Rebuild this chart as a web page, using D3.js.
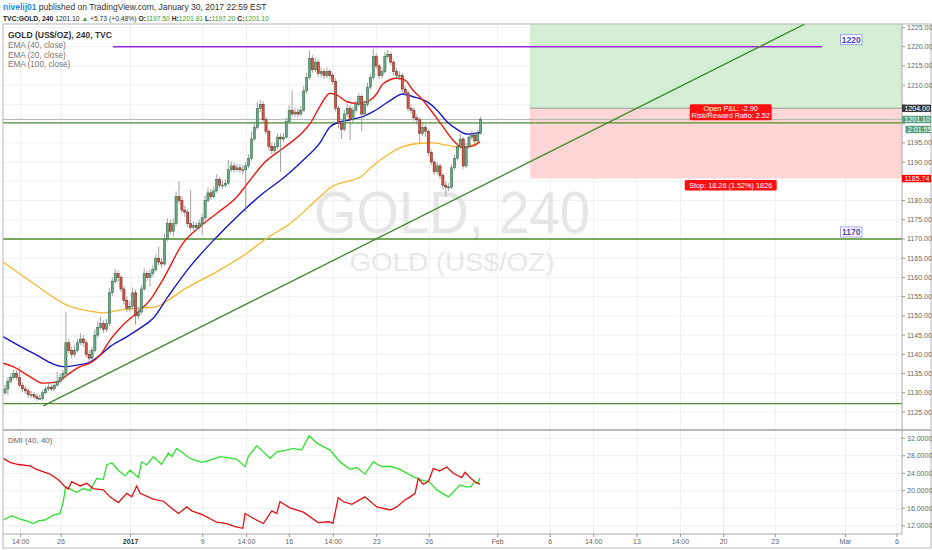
<!DOCTYPE html>
<html><head><meta charset="utf-8">
<script src="https://cdn.jsdelivr.net/npm/d3@7/dist/d3.min.js"></script>
<style>
html,body{margin:0;padding:0;background:#fff;}
svg{display:block;font-family:"Liberation Sans",Arial,sans-serif;}
</style></head>
<body><svg id="c" width="932" height="550"></svg>
<script>
// ---------------- DATA ----------------
const closes=[1131,1133,1134,1135,1134,1132,1131,1130.5,1129.5,1129.5,1129,1128.5,1128.5,1130,1131,1131.5,1131,1132,1133,1134,
1135,1143,1141,1140,1141,1143,1144,1143,1140,1139,1141,1145,1147,1148,1146.5,1148,1156,1159,1161,1160,
1157,1154,1152,1152.5,1156,1150,1151,1157,1161,1160,1161,1162,1165,1164,1163.5,1170,1174,1172,1174,1181,
1180,1177.5,1177,1174,1173,1173.5,1173,1174,1175.5,1180,1182,1181,1182.5,1185.5,1184,1184,1184.5,1188,1189,1188,
1188.5,1188,1188,1189,1191,1196,1199,1204,1205,1201,1198,1194,1193,1194,1196.5,1196,1196.5,1200.5,1203.5,1202.5,
1203,1202.5,1203.5,1208.5,1212,1217,1214,1216,1213,1213.5,1212.5,1213.5,1212.5,1211,1204,1200,1198.5,1202.5,1204,1201,
1203.5,1205,1207,1202.5,1205,1209.5,1212,1217.5,1215,1212.5,1213.5,1217.5,1218,1216,1213.5,1212.5,1212.5,1209,1208,1204,
1203.5,1201.5,1201,1197.5,1199,1198,1192.5,1190,1187.5,1189,1186.5,1184,1183.5,1183.5,1188.5,1191,1194,1196,1189,1194,
1196.5,1197,1195.5,1197.5,1201.1];
const opens=[1130,1131,1133,1134,1135,1134,1132,1131,1130.5,1129.5,1129.5,1129,1128.5,1128.5,1130,1131,1131.5,1131,1132,1133,
1134,1135,1143,1141,1140,1141,1143,1144,1143,1140,1139,1141,1145,1147,1148,1146.5,1148,1156,1159,1161,
1160,1157,1154,1152,1152.5,1156,1150,1151,1157,1161,1160,1161,1162,1165,1164,1163.5,1170,1174,1172,1174,
1181,1180,1177.5,1177,1174,1173,1173.5,1173,1174,1175.5,1180,1182,1181,1182.5,1185.5,1184,1184,1184.5,1188,1189,
1188,1188.5,1188,1188,1189,1191,1196,1199,1204,1205,1201,1198,1194,1193,1194,1196.5,1196,1196.5,1200.5,1203.5,
1202.5,1203,1202.5,1203.5,1208.5,1212,1217,1214,1216,1213,1213.5,1212.5,1213.5,1212.5,1211,1204,1200,1198.5,1202.5,1204,
1201,1203.5,1205,1207,1202.5,1205,1209.5,1212,1217.5,1215,1212.5,1213.5,1217.5,1218,1216,1213.5,1212.5,1212.5,1209,1208,
1204,1203.5,1201.5,1201,1197.5,1199,1198,1192.5,1190,1187.5,1189,1186.5,1184,1183.5,1183.5,1188.5,1191,1194,1196,1189,
1194,1196.5,1197,1195.5,1197.5];
const highs=[1132,1134,1135,1136,1135.8,1136.8,1132.8,1131.8,1131.2,1130.5,1130.2,1129.8,1129.6,1130.8,1131.8,1132.4,1132.2,1133,1135.5,1135,
1136,1151,1144,1142,1142.5,1144,1145.5,1145,1143.8,1141,1142,1146.5,1148.6,1149.8,1148.8,1149.2,1157.2,1160,1162.2,1161.8,
1160.6,1157.8,1155,1153.8,1157.4,1156.8,1152.4,1158,1162.4,1161.8,1162,1163.2,1166,1168,1165,1171.4,1175.4,1175,1175.2,1182.4,
1185,1181,1178.6,1177.8,1182.7,1174.6,1174.4,1175,1176.6,1181.2,1183.4,1183,1183.6,1186.8,1186.2,1185.2,1185.6,1190.5,1190.2,1189.8,
1189.6,1189.4,1189.2,1190,1192,1198,1200.4,1205.6,1206.2,1205.8,1201.8,1198.6,1195,1195.2,1197.6,1197.4,1197.6,1201.6,1204.8,1208.7,
1204.2,1204,1204.6,1209.8,1213.2,1219,1217.8,1217.2,1216.8,1214.6,1214.4,1214.6,1214.2,1213.2,1211.8,1204.6,1201.2,1203.6,1205.2,1204.8,
1204.4,1206.2,1208,1207.6,1206,1210.6,1213,1219.5,1218.2,1215.6,1214.6,1218.6,1219.2,1218.6,1216.6,1214.4,1213.6,1213.2,1209.8,1208.6,
1205,1204.2,1202.4,1201.6,1200,1199.8,1198.6,1193.2,1190.8,1190,1189.6,1187.2,1185,1184.6,1189.4,1192,1195,1197.4,1196.6,1195,
1197.6,1198.2,1197.6,1198.4,1201.81];
const lows=[1129.4,1129.4,1132.5,1133.5,1133.2,1131.5,1130.2,1129.8,1128.8,1128.6,1128.3,1127.9,1128.1,1128,1129.6,1130.5,1130.4,1130.6,1131.6,1132.5,
1133.4,1134.4,1140.2,1139,1139.2,1140.5,1142.4,1142,1139.2,1137.8,1138.4,1140.5,1144.4,1146.4,1145.6,1145.8,1147.4,1155.2,1158.4,1158.8,
1156.2,1153,1151,1151.2,1151.8,1147.8,1149.2,1150.4,1156.5,1159,1157.6,1160.2,1161.4,1163.2,1162.6,1163,1169.4,1171.2,1170.6,1173.4,
1179.2,1176.6,1175.8,1173,1172.2,1172.2,1172,1172.4,1171,1175,1179.4,1180.2,1180.4,1182,1183.2,1183,1183.4,1184,1187.4,1187.2,
1187.4,1187.2,1186.8,1177,1188.4,1190.4,1195.4,1198.4,1203,1200.2,1197.2,1193,1192,1192.2,1193.4,1187.5,1195.2,1196,1200,1201.8,
1201.8,1201.6,1201.8,1203,1207.8,1211.4,1213.2,1213.4,1212.2,1212,1211.6,1211.8,1211.6,1210.2,1203.2,1198.8,1196,1198,1201.8,1195.7,
1200.4,1202.8,1204.4,1198,1201.8,1204.4,1208.8,1211.4,1214.2,1211.6,1211.8,1213,1216.8,1215.2,1212.6,1211.8,1211.4,1208.2,1207,1203.2,
1202.6,1200.6,1199.8,1195,1196.8,1196.6,1191.6,1189.2,1186.6,1186.8,1185.6,1183,1181,1182.4,1183,1188,1190.4,1193.4,1188.2,1188.4,
1193.4,1195.8,1194.8,1195,1197.2];

// EMA readings: [bar index, price]
const ema20=[[-0.7,1137.7],[2.8,1136.8],[8.6,1134.2],[13.1,1132.5],[18.3,1132.9],[21.4,1134.6],[25.9,1136.8],[29.3,1137.7],[32.8,1139.8],[36.2,1143.7],[40.7,1147.6],[46.6,1151.5],[50,1154.1],[54.5,1159.5],[61.4,1168.9],[67.2,1173.2],[73.1,1176.7],[80,1181],[84.5,1185.3],[89,1189.5],[95.9,1193.6],[102.8,1197.9],[105.2,1200],[108.6,1204.5],[112.1,1207.9],[114.5,1207.4],[117.9,1205.7],[121.4,1205.3],[124.8,1205.7],[128.3,1207.9],[130.3,1210.3],[135.2,1211.8],[137.9,1211.3],[140.7,1208.7],[144.1,1206.1],[147.6,1202.7],[151,1199.2],[154.5,1195.7],[157.9,1193.8],[161.4,1194.2],[163.8,1195.3]];
const ema40=[[-0.7,1144.6],[9.7,1140.3],[20,1136.8],[24.8,1137.2],[29.3,1138],[32.8,1139.8],[36.2,1142],[42.1,1144.6],[46.6,1146.8],[51,1149.3],[56.2,1155],[63.8,1162.8],[73.1,1170.6],[80,1175.8],[89,1181.9],[95.9,1185.8],[102.8,1190.5],[108.6,1195],[112.1,1199.2],[114.5,1200.2],[119,1201],[123.4,1201.8],[126.9,1203.1],[132.8,1206],[137.2,1207.7],[140.7,1207],[145.5,1205.7],[149,1203.5],[152.4,1200.5],[155.9,1198.5],[159.3,1197.3],[163.8,1197.7]];
const ema100=[[-0.7,1164],[9.7,1158.5],[21.4,1152.8],[30.3,1151.1],[33.8,1150.8],[39.7,1151.5],[46.6,1152],[52.4,1152.4],[56.2,1154],[61.4,1156.7],[73.1,1161.5],[83.4,1166.3],[90.3,1170.2],[98.3,1174],[108.6,1181],[112.1,1183.3],[123.4,1186.6],[125.9,1188.4],[132.8,1192.3],[137.2,1194],[143.1,1194.9],[147.2,1195],[152.4,1194.4],[156.9,1193.8],[160.3,1194.2],[163.8,1195.3]];

// DMI readings: [bar index, value]
const diPlus=[[-0.6,13.3],[2.3,14.3],[5.2,13.5],[7.5,13.1],[9.8,12.5],[11.5,13.1],[13.8,13.3],[16.7,14.4],[19,14.8],[20.1,17.5],[20.9,20.9],[23,20.2],[24.7,19.6],[27,20.5],[29.3,20],[31.6,22.8],[33.9,22.6],[35.1,25.9],[36.8,26.4],[39.1,24.7],[41.4,23.4],[43.1,24.7],[46,23],[47.1,26.6],[48.9,25.9],[51.1,27.8],[54,26],[56.3,28.6],[57.5,27.8],[59.2,29.7],[61.5,28.6],[63.8,27.4],[67.8,26.5],[70.7,27],[74.1,27.8],[77,27.6],[79.9,27.2],[82.8,25.5],[83.9,27.8],[86.8,30.3],[89.1,28.9],[91.4,27.4],[93.7,28.9],[97.1,29.3],[99.4,29.7],[102.3,29.3],[104.9,32.6],[107.5,30.9],[112.1,29.3],[115.5,26.6],[119,24.9],[121.3,25.3],[124.1,23.8],[127,26.6],[129.9,25.5],[132.8,25.6],[136.2,24.9],[141.4,23],[144.2,22.3],[146,22.2],[148.9,20.2],[152.9,18.6],[156.9,21.3],[159,20.9],[160.7,20.9],[161.8,22],[163,21.7],[163.8,23]];
const diMinus=[[-0.6,27.4],[1.7,26.5],[4.6,26],[8.6,25.7],[10.9,24.9],[15.5,23.8],[18.4,22.5],[20.7,20.9],[21.8,20.4],[23,22.1],[25.9,21.1],[28.2,21.7],[30.4,20.5],[33.9,20.2],[36.2,18.6],[39.1,17.3],[42,19.4],[43.7,18.6],[45.4,21.1],[46.6,19.4],[51.1,18.1],[54.6,17.6],[57.5,16],[59.8,14.8],[62.7,16.3],[64.4,15.4],[68.4,14.4],[73,12.8],[76.4,12.5],[79.3,11.8],[82,11.4],[82.8,14.8],[85.6,13.7],[89.1,12.5],[92,15.4],[93.7,14.8],[94.8,17.5],[98.3,16.1],[102.9,15.1],[108,12.7],[111.5,12.9],[113.1,12.6],[114.9,18.4],[116.7,17.5],[119.6,16.9],[124.1,18.6],[128.2,16.3],[132.8,15.6],[135.1,16.3],[137.9,17.9],[139.7,18.6],[141.4,19.4],[142.5,22.8],[144.2,21.5],[146,22.1],[147.7,25.1],[149.8,24.5],[152.3,25.4],[154.6,24],[157.5,23],[158.6,24.2],[160.7,22.8],[162.4,21.9],[163.8,21.5]];

// Time axis
const timeLabels=["14:00","26","2017","9","14:00","16","14:00","23","26","Feb","6","14:00","13","14:00","20","23","Mar","6"];
const timeBars=[5.4,19.3,43.3,68.2,83.3,98,113.2,128.2,146.3,169.9,188,203,217.9,232.9,247.8,265.6,289.8,307.6];
const priceTicks=d3.range(1125,1226,5);
const dmiTicks=[12,16,20,24,28,32];

// Drawings
const hLines=[1200.2,1170,1127.2];
const purpleLevel=1220, purpleFrom=37.2, purpleTo=281.7;
const trendA=[13.2,1126.6], trendB=[198.3,1196.6];
const levelBoxes=[{t:"1220",p:1220},{t:"1170",p:1170}];
const entry=1204.00, stop=1185.74, target=1250.0, posStart=181, posEnd=319.5;
const lastPrice=1201.10;

// header segments: [text, colour, weight]
const headerLine1=[["nivelij01","#1e88e5","bold"],[" published on TradingView.com, January 30, 2017 22:59 EST","#333","normal"]];
const headerLine2=[["TVC:GOLD, 240","#222","bold"],[" 1201.10 ","#222","normal"],["▲","#3a9e3a","normal"],[" +5.73 (+0.48%) ","#333","normal"],["O:","#222","bold"],["1197.50","#3a9e3a","normal"],[" H:","#222","bold"],["1201.81","#3a9e3a","normal"],[" L:","#222","bold"],["1197.20","#3a9e3a","normal"],[" C:","#222","bold"],["1201.10","#3a9e3a","normal"]];

// ---------------- LAYOUT ----------------
const PL=3, PR=902, MT=24, MB=429, DT=431, DB=534;
const svg=d3.select("#c");
const x=d3.scaleLinear().domain([0,309]).range([5,901.1]);
const y=d3.scaleLinear().domain([1125,1225]).range([412,27.5]);
const yd=d3.scaleLinear().domain([12,32]).range([525.7,438.3]);

svg.append("rect").attr("width",932).attr("height",550).attr("fill","#fff");
const defs=svg.append("defs");
defs.append("clipPath").attr("id","cm").append("rect").attr("x",PL).attr("y",MT).attr("width",PR-PL).attr("height",MB-MT);
defs.append("clipPath").attr("id","cd").append("rect").attr("x",PL).attr("y",DT).attr("width",PR-PL).attr("height",DB-DT);

// header: segments laid out one after another, sized to fit the target width
function headerLine(segs,yy,targetW){
  let fs=9;
  const g=svg.append("g");
  function draw(){
    g.selectAll("*").remove();
    let cx=3;
    segs.forEach(s=>{
      const t=g.append("text").attr("x",cx).attr("y",yy).attr("font-size",fs).attr("fill",s[1]).attr("font-weight",s[2]).attr("xml:space","preserve").style("white-space","pre").text(s[0]);
      cx+=t.node().getComputedTextLength();
    });
    return cx-3;
  }
  const w=draw();
  fs=fs*targetW/w;
  draw();
}
headerLine(headerLine1,10,264);
headerLine(headerLine2,21,266);

// grid
const grid=svg.append("g");
timeBars.forEach(b=>{
  grid.append("line").attr("x1",x(b)).attr("x2",x(b)).attr("y1",MT).attr("y2",MB).attr("stroke","#eeeeee");
  grid.append("line").attr("x1",x(b)).attr("x2",x(b)).attr("y1",DT).attr("y2",DB).attr("stroke","#eeeeee");
});
priceTicks.forEach(p=>grid.append("line").attr("x1",PL).attr("x2",PR).attr("y1",y(p)).attr("y2",y(p)).attr("stroke","#f0f0f0"));
dmiTicks.forEach(v=>grid.append("line").attr("x1",PL).attr("x2",PR).attr("y1",yd(v)).attr("y2",yd(v)).attr("stroke","#eeeeee"));

// watermark
svg.append("text").attr("x",452).attr("y",233).attr("text-anchor","middle").attr("font-size",60).attr("fill","#e6e6e6")
  .attr("textLength",276).attr("lengthAdjust","spacingAndGlyphs").text("GOLD, 240");
svg.append("text").attr("x",452).attr("y",271).attr("text-anchor","middle").attr("font-size",26).attr("fill","#e8e8e8")
  .attr("textLength",205).attr("lengthAdjust","spacingAndGlyphs").text("GOLD (US$/OZ)");

const main=svg.append("g").attr("clip-path","url(#cm)");

// position tool
main.append("rect").attr("x",x(posStart)).attr("width",x(posEnd)-x(posStart)).attr("y",y(target)).attr("height",y(entry)-y(target)).attr("fill","#d3eed3");
main.append("rect").attr("x",x(posStart)).attr("width",x(posEnd)-x(posStart)).attr("y",y(entry)).attr("height",y(stop)-y(entry)).attr("fill","#ffd5d5");
main.append("line").attr("x1",x(posStart)).attr("x2",x(posEnd)).attr("y1",y(entry)).attr("y2",y(entry)).attr("stroke","#999").attr("stroke-width",1);

// horizontal levels
hLines.forEach(p=>main.append("line").attr("x1",PL).attr("x2",PR).attr("y1",y(p)).attr("y2",y(p)).attr("stroke","#4f8f2f").attr("stroke-width",1.3));
main.append("line").attr("x1",PL).attr("x2",PR).attr("y1",y(lastPrice)).attr("y2",y(lastPrice)).attr("stroke","#a9b9ae").attr("stroke-width",1);
main.append("line").attr("x1",x(purpleFrom)).attr("x2",x(purpleTo)).attr("y1",y(purpleLevel)).attr("y2",y(purpleLevel)).attr("stroke","#9d27d6").attr("stroke-width",1.5);
// trend ray
const slope=(trendB[1]-trendA[1])/(trendB[0]-trendA[0]);
const tEnd=320;
main.append("line").attr("x1",x(trendA[0])).attr("y1",y(trendA[1])).attr("x2",x(tEnd)).attr("y2",y(trendA[1]+slope*(tEnd-trendA[0])))
  .attr("stroke","#3b8a2c").attr("stroke-width",1.3);

// EMAs
const lineP=d3.line().x(d=>x(d[0])).y(d=>y(d[1])).curve(d3.curveMonotoneX);
main.append("path").attr("d",lineP(ema100)).attr("fill","none").attr("stroke","#f3b72b").attr("stroke-width",1.3);
main.append("path").attr("d",lineP(ema40)).attr("fill","none").attr("stroke","#1818c8").attr("stroke-width",1.4);
main.append("path").attr("d",lineP(ema20)).attr("fill","none").attr("stroke","#ea1a10").attr("stroke-width",1.4);

// candles
const cg=main.append("g");
closes.forEach((c,i)=>{
  const o=opens[i], up=c>=o, cx=x(i);
  cg.append("line").attr("x1",cx).attr("x2",cx).attr("y1",y(highs[i])).attr("y2",y(lows[i])).attr("stroke","#8a8a8c").attr("stroke-width",0.8);
  const top=y(Math.max(o,c)), bot=y(Math.min(o,c));
  cg.append("rect").attr("x",cx-1.1).attr("width",2.2).attr("y",top).attr("height",Math.max(0.8,bot-top))
    .attr("fill",up?"#6ba583":"#d75442").attr("stroke",up?"#2b6543":"#6b1f16").attr("stroke-width",0.5);
});

// level boxes
levelBoxes.forEach(b=>{
  const cy=y(b.p)-7;
  svg.append("rect").attr("x",840.5).attr("y",cy-5).attr("width",21.5).attr("height",10).attr("fill","#fff").attr("stroke","#8c8cf0").attr("stroke-width",0.8);
  svg.append("text").attr("x",851.2).attr("y",cy+3.3).attr("text-anchor","middle").attr("font-size",8.5).attr("font-weight","bold").attr("fill","#4848b8").text(b.t);
});

// position labels
const pcx=(x(posStart)+x(posEnd))/2;
svg.append("rect").attr("x",pcx-41).attr("y",y(entry)-4).attr("width",82).attr("height",16).attr("rx",1.5).attr("fill","#ff1010");
svg.append("text").attr("x",pcx).attr("y",y(entry)+2.8).attr("text-anchor","middle").attr("font-size",7.3).attr("fill","#fff").text("Open P&L: -2.90");
svg.append("text").attr("x",pcx).attr("y",y(entry)+10.2).attr("text-anchor","middle").attr("font-size",7.3).attr("fill","#fff").text("Risk/Reward Ratio: 2.52");
svg.append("rect").attr("x",pcx-46).attr("y",y(stop)+1.6).attr("width",92).attr("height",10.5).attr("rx",1.5).attr("fill","#ff1010");
svg.append("text").attr("x",pcx).attr("y",y(stop)+9.4).attr("text-anchor","middle").attr("font-size",7.3).attr("fill","#fff").text("Stop: 18.26 (1.52%) 1826");

// legends
svg.append("text").attr("x",8).attr("y",38).attr("font-size",8.5).attr("fill","#333").attr("font-weight","bold").text("GOLD (US$/OZ), 240, TVC");
["EMA (40, close)","EMA (20, close)","EMA (100, close)"].forEach((t,i)=>
  svg.append("text").attr("x",8).attr("y",48+i*9.7).attr("font-size",8.2).attr("fill","#777").text(t));

// DMI
const dmi=svg.append("g").attr("clip-path","url(#cd)");
const lineD=d3.line().x(d=>x(d[0])).y(d=>yd(d[1]));
dmi.append("path").attr("d",lineD(diPlus)).attr("fill","none").attr("stroke","#2fe02f").attr("stroke-width",1.3);
dmi.append("path").attr("d",lineD(diMinus)).attr("fill","none").attr("stroke","#e31212").attr("stroke-width",1.3);
svg.append("text").attr("x",8).attr("y",443).attr("font-size",8).attr("fill","#666").text("DMI (40, 40)");

// frames
svg.append("rect").attr("x",PL).attr("y",MT).attr("width",931-PL).attr("height",548-MT).attr("fill","none").attr("stroke","#b5b5b5");
svg.append("line").attr("x1",PL).attr("x2",931).attr("y1",430).attr("y2",430).attr("stroke","#b8b8b8").attr("stroke-width",2.2);
svg.append("line").attr("x1",PR).attr("x2",PR).attr("y1",MT).attr("y2",DB).attr("stroke","#a8a8a8");
svg.append("line").attr("x1",PL).attr("x2",PR).attr("y1",DB).attr("y2",DB).attr("stroke","#a8a8a8");

// axis price tags (positions)
const tags=[{p:entry,t:d3.format(".2f")(entry),bg:"#3d3d3d",dx:0},
            {p:lastPrice,t:d3.format(".2f")(lastPrice),bg:"#5e9e80",dx:0},
            {p:lastPrice-2.6,t:"2:01:55",bg:"#5e9e80",dx:3.5},
            {p:stop,t:d3.format(".2f")(stop),bg:"#ff0000",dx:0}];

// right price axis
const ax=svg.append("g").attr("font-size",7).attr("fill","#666");
priceTicks.forEach(p=>{
  ax.append("line").attr("x1",PR).attr("x2",PR+3).attr("y1",y(p)).attr("y2",y(p)).attr("stroke","#999");
  const hidden=tags.some(tg=>Math.abs(y(tg.p)-y(p))<6.5);
  if(!hidden) ax.append("text").attr("x",PR+5).attr("y",y(p)+2.5).text(d3.format(".2f")(p));
});
dmiTicks.forEach(v=>{
  ax.append("line").attr("x1",PR).attr("x2",PR+3).attr("y1",yd(v)).attr("y2",yd(v)).attr("stroke","#999");
  ax.append("text").attr("x",PR+5).attr("y",yd(v)+2.5).text(d3.format(".4f")(v));
});
timeLabels.forEach((t,i)=>{
  const tx=x(timeBars[i]);
  ax.append("line").attr("x1",tx).attr("x2",tx).attr("y1",DB).attr("y2",DB+3).attr("stroke","#999");
  ax.append("text").attr("x",tx).attr("y",544).attr("text-anchor","middle").attr("font-weight",t==="2017"?"bold":"normal").attr("fill",t==="2017"?"#333":"#666").text(t);
});

tags.forEach(tg=>{
  const ty=y(tg.p);
  svg.append("rect").attr("x",PR+tg.dx).attr("y",ty-3.6).attr("width",931-PR-tg.dx).attr("height",7.4).attr("fill",tg.bg);
  svg.append("text").attr("x",PR+tg.dx+2.5).attr("y",ty+2.5).attr("font-size",7).attr("fill","#fff").text(tg.t);
});
</script></body></html>
